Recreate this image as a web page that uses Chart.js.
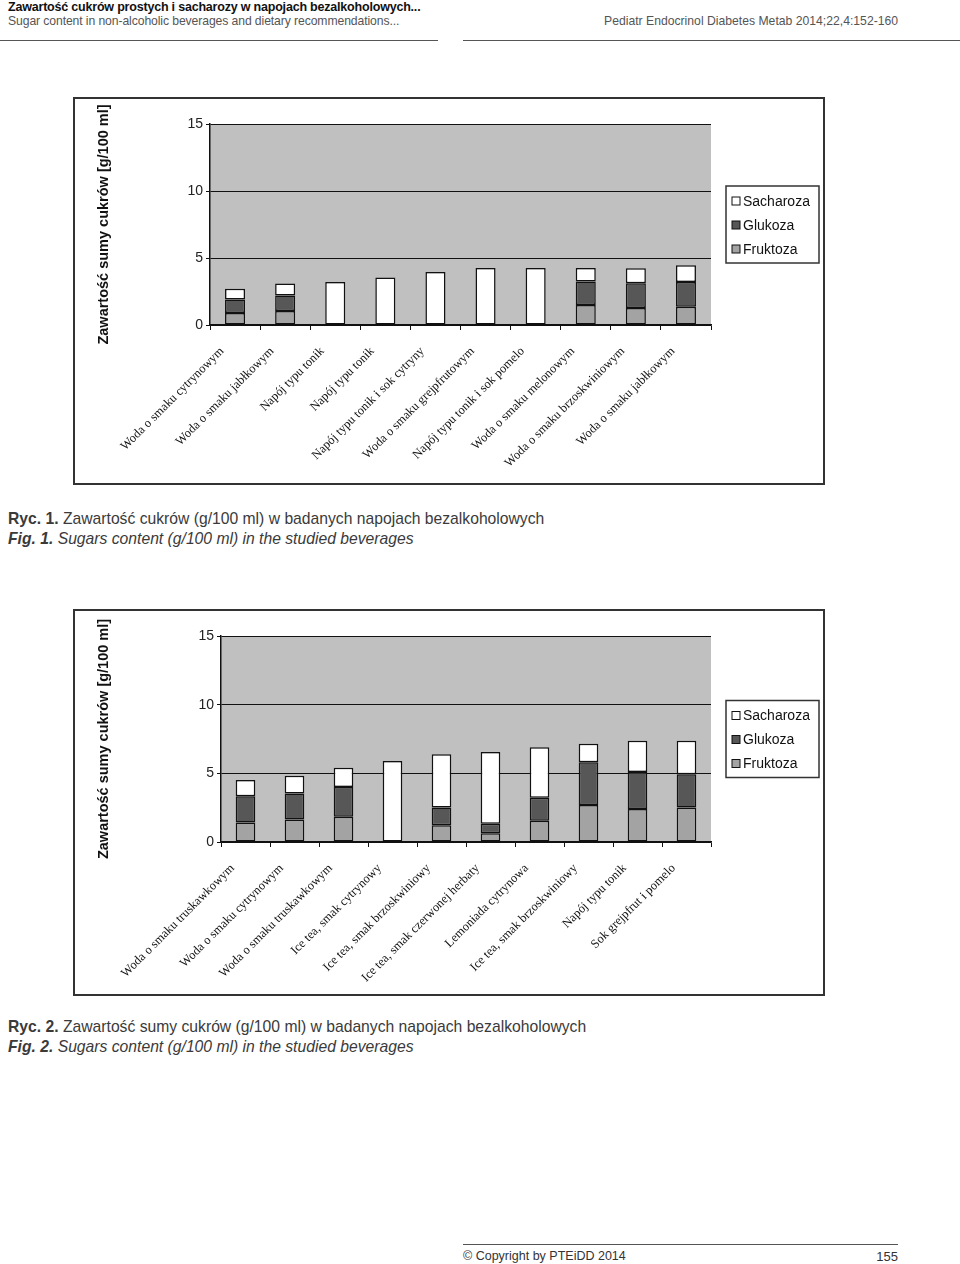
<!DOCTYPE html>
<html lang="pl">
<head>
<meta charset="utf-8">
<title>Zawartość cukrów w napojach</title>
<script src="https://cdn.jsdelivr.net/npm/chart.js@4.4.1/dist/chart.umd.min.js"></script>
<style>
    body {
        margin: 0;
        background: #fff;
    }
    #page {
        position: relative;
        width: 960px;
        height: 1264px;
        overflow: hidden;
        font-family: "Liberation Sans", Arial, sans-serif;
        color: #333;
    }
    .txt {
        position: absolute;
        white-space: nowrap;
    }
    .rule {
        position: absolute;
        height: 0;
        border-top: 1px solid #555;
    }
    .frame {
        position: absolute;
        box-sizing: border-box;
        border: 2px solid #333;
        background: #fff;
    }
    .frame canvas {
        position: absolute;
        left: 0;
        top: 0;
    }
    .caption {
        font-size: 15.7px;
        color: #3a3a3a;
    }
</style>
</head>
<body>
<div id="page">

    <div class="txt" style="left:8px; top:0px; font-size:12.5px; font-weight:bold; color:#111; letter-spacing:-0.2px;">Zawartość cukrów prostych i sacharozy w napojach bezalkoholowych...</div>
    <div class="txt" style="left:8px; top:14px; font-size:12.2px; color:#555; letter-spacing:-0.1px;">Sugar content in non-alcoholic beverages and dietary recommendations...</div>
    <div class="txt" style="left:604px; top:14px; font-size:12.2px; color:#555;">Pediatr Endocrinol Diabetes Metab 2014;22,4:152-160</div>
    <div class="rule" style="left:0; top:40px; width:438px;"></div>
    <div class="rule" style="left:463px; top:40px; width:497px;"></div>

    <div class="frame" style="left:73px; top:97px; width:752px; height:388px;">
        <canvas id="chart1" width="748" height="384"></canvas>
    </div>

    <div class="txt caption" style="left:8px; top:510px;"><b>Ryc. 1.</b> Zawartość cukrów (g/100 ml) w badanych napojach bezalkoholowych</div>
    <div class="txt caption" style="left:8px; top:530px; font-style:italic;"><b>Fig. 1.</b> Sugars content (g/100 ml) in the studied beverages</div>

    <div class="frame" style="left:73px; top:609px; width:752px; height:387px;">
        <canvas id="chart2" width="748" height="383"></canvas>
    </div>

    <div class="txt caption" style="left:8px; top:1018px;"><b>Ryc. 2.</b> Zawartość sumy cukrów (g/100 ml) w badanych napojach bezalkoholowych</div>
    <div class="txt caption" style="left:8px; top:1038px; font-style:italic;"><b>Fig. 2.</b> Sugars content (g/100 ml) in the studied beverages</div>

    <div class="rule" style="left:463px; top:1244px; width:435px;"></div>
    <div class="txt" style="left:463px; top:1249px; font-size:12.5px; color:#333;">© Copyright by PTEiDD 2014</div>
    <div class="txt" style="left:860px; top:1249px; width:38px; text-align:right; font-size:13px; color:#333;">155</div>
</div>

<script>
// chart 1 - beverages
const labels1 = [
    "Woda o smaku cytrynowym",
    "Woda o smaku jabłkowym",
    "Napój typu tonik",
    "Napój typu tonik",
    "Napój typu tonik i sok cytryny",
    "Woda o smaku grejpfrutowym",
    "Napój typu tonik i sok pomelo",
    "Woda o smaku melonowym",
    "Woda o smaku brzoskwiniowym",
    "Woda o smaku jabłkowym"
];
const fruktoza1 = [0.9, 1.05, null, null, null, null, null, 1.5, 1.27, 1.37];
const glukoza1 = [1.0, 1.15, null, null, null, null, null, 1.75, 1.84, 1.84];
const sacharoza1 = [0.8, 0.9, 3.2, 3.55, 3.95, 4.25, 4.25, 1.0, 1.12, 1.25];

// chart 2 - beverages
const labels2 = [
    "Woda o smaku truskawkowym",
    "Woda o smaku cytrynowym",
    "Woda o smaku truskawkowym",
    "Ice tea, smak cytrynowy",
    "Ice tea, smak brzoskwiniowy",
    "Ice tea, smak czerwonej herbaty",
    "Lemoniada cytrynowa",
    "Ice tea, smak brzoskwiniowy",
    "Napój typu tonik",
    "Sok grejpfrut i pomelo"
];
const fruktoza2 = [1.42, 1.64, 1.83, null, 1.22, 0.64, 1.54, 2.7, 2.41, 2.51];
const glukoza2 = [1.92, 1.9, 2.17, null, 1.29, 0.68, 1.68, 3.1, 2.69, 2.42];
const sacharoza2 = [1.17, 1.28, 1.41, 5.9, 3.88, 5.24, 3.68, 1.36, 2.28, 2.45];

const yTicks = [0, 5, 10, 15];
const yTitle = "Zawartość sumy cukrów [g/100 ml]";
const seriesNames = ["Fruktoza", "Glukoza", "Sacharoza"];
const seriesColors = ["#a3a3a3", "#575757", "#ffffff"];

// grey plot area like the old excel charts
const plotBackground = {
    id: "plotBackground",
    beforeDraw(chart) {
        const { ctx, chartArea } = chart;
        ctx.save();
        ctx.fillStyle = "#c0c0c0";
        ctx.fillRect(
            chartArea.left,
            chartArea.top,
            chartArea.right - chartArea.left,
            chartArea.bottom - chartArea.top
        );
        ctx.restore();
    }
};

// boxed legend on the right, top item = last dataset
const boxLegend = {
    id: "boxLegend",
    afterDraw(chart) {
        const { ctx, chartArea } = chart;
        const w = 93;
        const h = 77;
        const x = chartArea.right + 15;
        const y = (chartArea.top + chartArea.bottom) / 2 - h / 2;

        ctx.save();
        ctx.fillStyle = "#ffffff";
        ctx.fillRect(x, y, w, h);
        ctx.strokeStyle = "#333";
        ctx.lineWidth = 1.5;
        ctx.strokeRect(x, y, w, h);

        ctx.font = "14px 'Liberation Sans', Arial, sans-serif";
        ctx.textBaseline = "middle";

        const sets = chart.data.datasets.slice().reverse();
        sets.forEach((ds, i) => {
            const cy = y + 15 + i * 24;
            ctx.fillStyle = ds.backgroundColor;
            ctx.fillRect(x + 6, cy - 4, 8, 8);
            ctx.strokeStyle = "#111";
            ctx.lineWidth = 1;
            ctx.strokeRect(x + 6, cy - 4, 8, 8);
            ctx.fillStyle = "#111";
            ctx.fillText(ds.label, x + 17, cy + 1);
        });
        ctx.restore();
    }
};

function makeChart(
    canvasId,
    labels,
    fruktoza,
    glukoza,
    sacharoza,
    yWidth,
    xHeight
) {

    const ctx =
        document.getElementById(canvasId);

    const values = [fruktoza, glukoza, sacharoza];

    const datasets = values.map((data, i) => ({
        label: seriesNames[i],
        data: data,
        backgroundColor: seriesColors[i],
        borderColor: "#111",
        borderWidth: 1.5,
        borderSkipped: false,
        barPercentage: 0.8,
        categoryPercentage: 0.5
    }));

    return new Chart(ctx, {
        type: "bar",
        data: {
            labels: labels,
            datasets: datasets
        },
        options: {
            responsive: false,
            animation: false,
            devicePixelRatio: 1,
            layout: {
                padding: { top: 25, right: 112, left: 0, bottom: 0 }
            },
            plugins: {
                legend: { display: false },
                tooltip: { enabled: false }
            },
            scales: {
                x: {
                    stacked: true,
                    offset: true,
                    afterFit(scale) {
                        scale.height = xHeight;
                    },
                    grid: {
                        offset: true,
                        drawOnChartArea: false,
                        color: "#111",
                        tickLength: 5
                    },
                    border: { color: "#111", width: 1.5 },
                    ticks: {
                        autoSkip: false,
                        maxRotation: 45,
                        minRotation: 45,
                        labelOffset: -13,
                        padding: 14,
                        color: "#111",
                        font: {
                            family: "'Liberation Serif', 'Times New Roman', serif",
                            size: 12.5
                        }
                    }
                },
                y: {
                    stacked: true,
                    min: yTicks[0],
                    max: yTicks[yTicks.length - 1],
                    afterFit(scale) {
                        scale.width = yWidth;
                    },
                    afterBuildTicks(scale) {
                        scale.ticks = yTicks.map(v => ({ value: v }));
                    },
                    grid: {
                        color: "#111",
                        tickLength: 4
                    },
                    border: { color: "#111", width: 1.5 },
                    ticks: {
                        padding: 3,
                        color: "#222",
                        font: {
                            family: "'Liberation Sans', Arial, sans-serif",
                            size: 14
                        }
                    },
                    title: {
                        display: true,
                        text: yTitle,
                        color: "#111",
                        padding: { top: 20, bottom: 0 },
                        font: {
                            family: "'Liberation Sans', Arial, sans-serif",
                            size: 14.5,
                            weight: "bold"
                        }
                    }
                }
            }
        },
        plugins: [plotBackground, boxLegend]
    });
}

makeChart("chart1", labels1, fruktoza1, glukoza1, sacharoza1, 135, 158);
makeChart("chart2", labels2, fruktoza2, glukoza2, sacharoza2, 146, 152);
</script>
</body>
</html>
